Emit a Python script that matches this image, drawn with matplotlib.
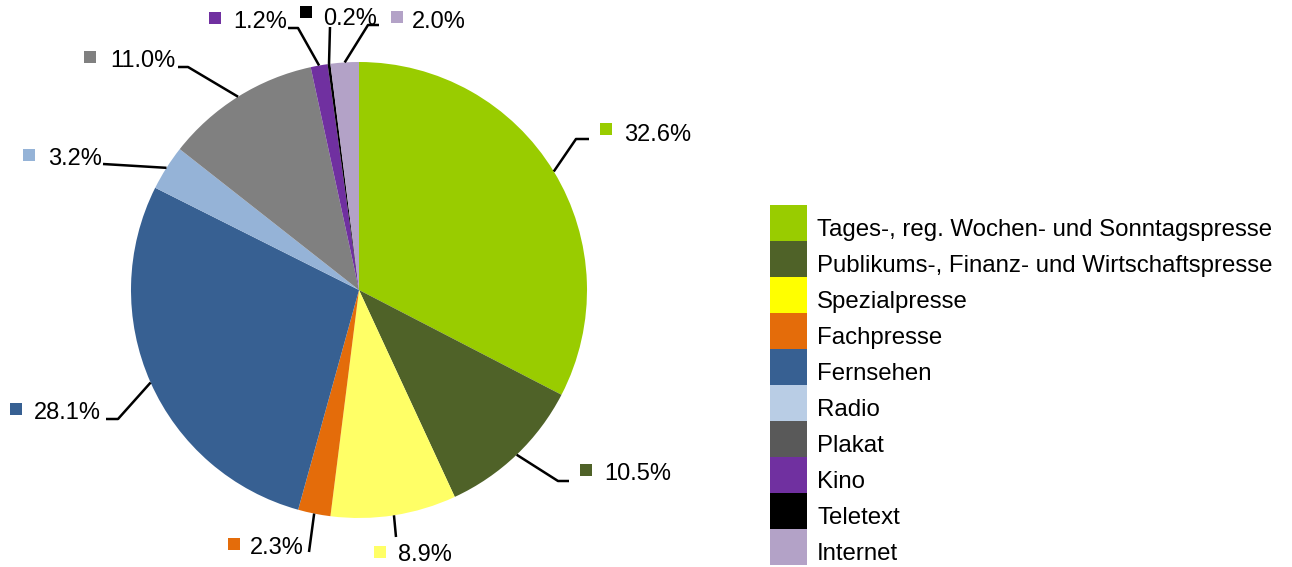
import matplotlib
matplotlib.use("Agg")
import matplotlib.pyplot as plt
from matplotlib.patches import Rectangle
import numpy as np

plt.rcParams["font.family"] = ["Liberation Sans", "DejaVu Sans"]

# data
categories = [
    "Tages-, reg. Wochen- und Sonntagspresse",
    "Publikums-, Finanz- und Wirtschaftspresse",
    "Spezialpresse",
    "Fachpresse",
    "Fernsehen",
    "Radio",
    "Plakat",
    "Kino",
    "Teletext",
    "Internet",
]
shares = [32.6, 10.5, 8.9, 2.3, 28.1, 3.2, 11.0, 1.2, 0.2, 2.0]
pie_colors = ["#99CC00", "#4F6228", "#FFFF66", "#E46C0A", "#376092",
              "#95B3D7", "#808080", "#7030A0", "#000000", "#B3A2C7"]
legend_colors = ["#99CC00", "#4F6228", "#FFFF00", "#E46C0A", "#376092",
                 "#B9CDE5", "#595959", "#7030A0", "#000000", "#B3A2C7"]

# label layout in image pixels (y down):
# (elbow_x, elbow_y, end_x, end_y, marker_x, marker_cy, text_x, baseline)
label_layout = [
    (576, 139, 589, 139, 600, 129, 624, 141),
    (558, 481, 569, 481, 580, 470, 604, 480),
    (396, 537, 396, 537, 374, 552, 398, 561),
    (309, 552, 309, 552, 228, 544, 250, 554),
    (118, 419, 106, 419, 10, 409, 34, 419),
    (103, 164, 103, 164, 23, 155, 48, 165),
    (188, 67, 178, 67, 84, 57, 110, 67),
    (298, 28, 288, 28, 209, 18, 233, 28),
    (330, 27, 330, 27, 300, 12, 323, 25),
    (368, 25, 379, 25, 391, 17, 412, 28),
]

W, H = 1292, 567
CX, CY, R = 359, 290, 228

fig = plt.figure(figsize=(W / 100, H / 100), dpi=100)
ax = fig.add_axes([0, 0, 1, 1])


def up(y):
    return H - y


ax.pie(shares, colors=pie_colors, startangle=90, counterclock=False,
       center=(CX, up(CY)), radius=R, frame=True,
       wedgeprops=dict(linewidth=0))
ax.set_xlim(0, W)
ax.set_ylim(0, H)
ax.axis("off")

# leader lines + labels
cum = np.cumsum([0] + shares[:-1])
for v, c0, col, lay in zip(shares, cum, pie_colors, label_layout):
    ex, ey, tx, ty, mx, my, lx, base = lay
    ang = np.deg2rad(90 - 360 * (c0 + v / 2) / 100)
    sx, sy = CX + R * np.cos(ang), up(CY) + R * np.sin(ang)
    ax.plot([sx, ex, tx], [sy, up(ey), up(ty)], color="black", lw=1.8,
            solid_capstyle="butt")
    ax.add_patch(Rectangle((mx, up(my) - 6), 12, 12, facecolor=col,
                           edgecolor="none"))
    ax.text(lx, up(base), f"{v:.1f}%", fontsize=17, ha="left",
            va="baseline", color="black")

# legend
row_h = 36
top = 205
for i, (name, col) in enumerate(zip(categories, legend_colors)):
    y0 = top + i * row_h
    ax.add_patch(Rectangle((770, up(y0 + row_h)), 37, row_h,
                           facecolor=col, edgecolor="none"))
    ax.text(817, up(y0 + 31), name, fontsize=17.3, ha="left",
            va="baseline", color="black")

fig.savefig("out.png", dpi=100)
